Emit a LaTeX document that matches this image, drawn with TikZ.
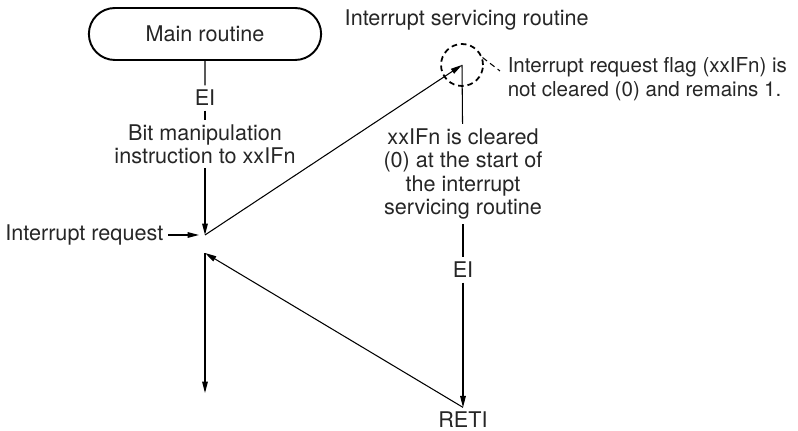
\documentclass[tikz,border=0pt]{standalone}
\usepackage{fontspec}
\setmainfont{TeX Gyre Heros}
\usetikzlibrary{arrows.meta, shapes.misc, positioning}

\begin{document}
\begin{tikzpicture}[
  x=0.02cm, y=-0.02cm,
  every node/.style={font=\fontsize{12.3}{13.3}\selectfont, text=black!85},
  routine/.style={rounded rectangle, draw, line width=1.1pt,
    minimum width=4.88cm, minimum height=1.04cm},
  lbl/.style={inner sep=2.5pt, align=center},
  line/.style={line width=0.6pt},
  arr/.style={line, -{Triangle[length=6.5pt, width=3.2pt]}},
  flagcirc/.style={circle, draw, dash pattern=on 3.2pt off 2.2pt,
    line width=1pt, minimum size=0.84cm, inner sep=0pt}
]
  \useasboundingbox (0,0) rectangle (798,431);

  \node[routine] (main) at (205,34) {Main routine};
  \node[lbl] (ei1) at (205,98) {EI};
  \node[lbl] (bitinst) at (205,144) {Bit manipulation\\instruction to xxIFn};
  \coordinate (req) at (205,235);
  \coordinate (ret) at (205,253);
  \coordinate (cont) at (205,393);
  \node[lbl, anchor=east] (reqtxt) at (168,235) {Interrupt request};
  \coordinate (reqtip) at (199,235);

  \node[lbl, anchor=west] (isrtitle) at (340,20) {Interrupt servicing routine};
  \node[flagcirc] (flag) at (462,65) {};
  \coordinate (isr) at (462,65);
  \node[lbl, anchor=west, align=left,
    font=\fontsize{11.7}{13.3}\selectfont] (flagtxt) at (503,79)
    {Interrupt request flag (xxIFn) is\\not cleared (0) and remains 1.};
  \coordinate (flagtip) at (500,71);
  \node[lbl] (clrtxt) at (463,174)
    {xxIFn is cleared\\(0) at the start of\\the interrupt\\servicing routine};
  \node[lbl] (ei2) at (463,270) {EI};
  \node[lbl] (retitxt) at (463,420) {RETI};

  \draw[line] (main) -- (ei1);
  \draw[line] (ei1) -- (bitinst);
  \draw[arr] (bitinst) -- (req);
  \draw[arr] (reqtxt) -- (reqtip);
  \draw[arr] (req) -- (isr);
  \draw[line, dash pattern=on 3.2pt off 2.2pt] (flag.20) -- (flagtip);
  \draw[line] (isr) -- (clrtxt);
  \draw[line] (clrtxt) -- (ei2);
  \draw[arr] (ei2) -- (retitxt.north);
  \draw[arr] (retitxt.north) -- (ret);
  \draw[arr] (ret) -- (cont);
\end{tikzpicture}
\end{document}
